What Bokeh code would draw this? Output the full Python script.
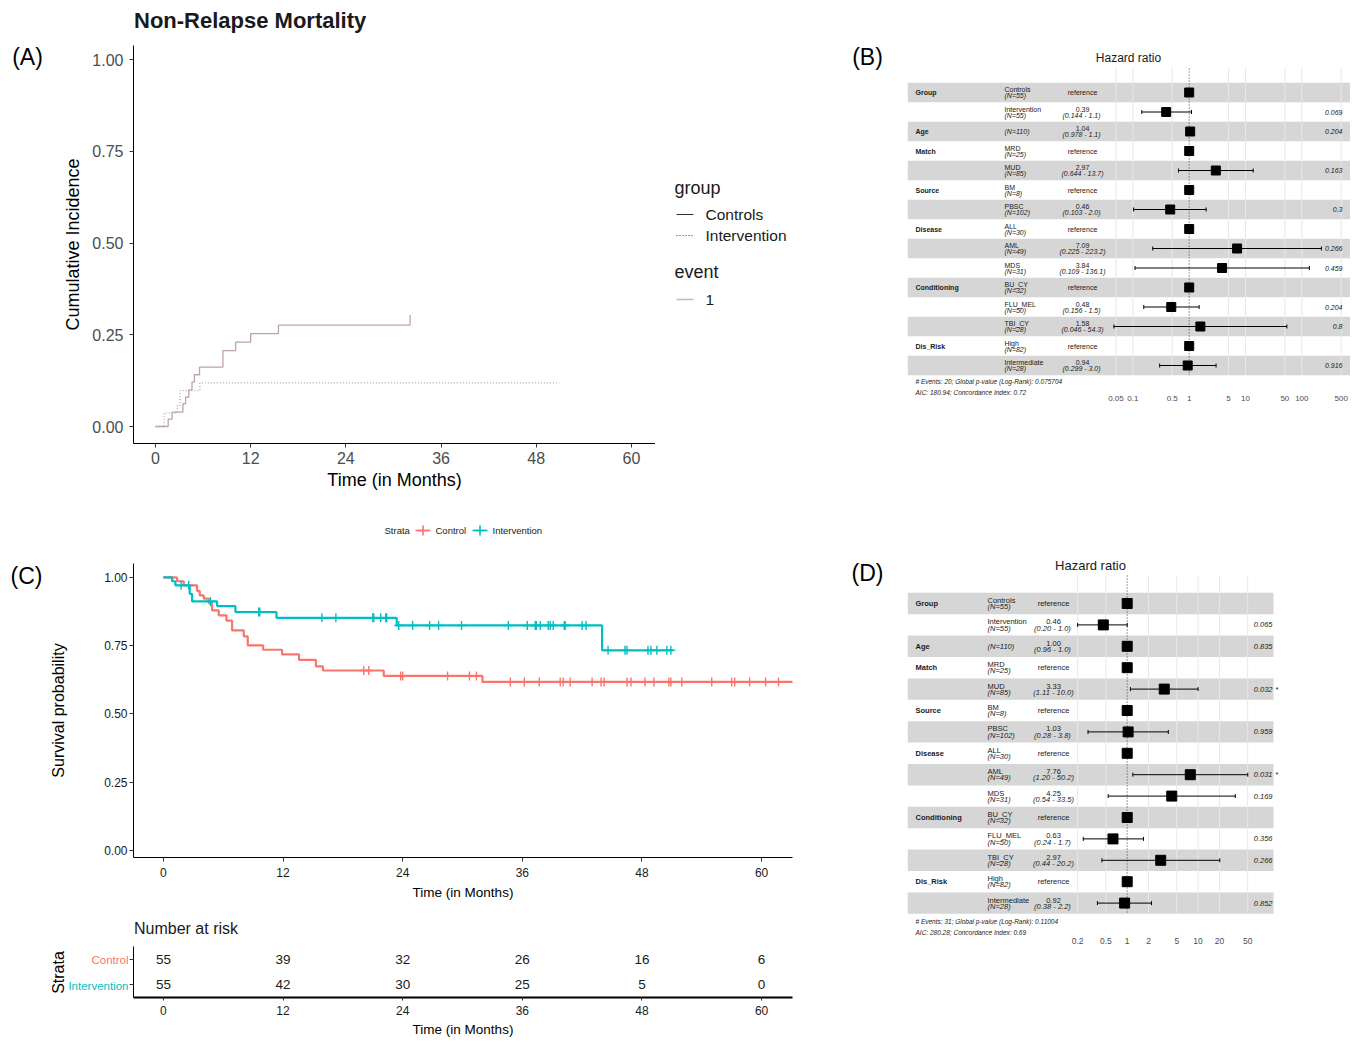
import numpy as np
from bokeh.plotting import figure
from bokeh.models import Range1d, FixedTicker, NumeralTickFormatter
from bokeh.layouts import row, column
from bokeh.embed import file_html
from bokeh.resources import INLINE
from bokeh.core.properties import value

FONT = "Liberation Sans"
RED = "#F8766D"
TEAL = "#00BFC4"
CIF_COLOR = "#BFA3A3"
nan = float("nan")

# ---------------- Panel A : Non-relapse mortality (cumulative incidence) ----------------
a_groups = ["Controls", "Intervention"]
a_events = ["1"]
a_x_ticks = [0, 12, 24, 36, 48, 60]
a_y_ticks = [0.0, 0.25, 0.5, 0.75, 1.0]
a_ctrl_time = [0.0, 1.6, 2.1, 3.45, 3.8, 4.2, 4.6, 4.9, 5.55, 8.5, 10.1, 12.0, 15.5, 32.1]
a_ctrl_cif = [0.0, 0.02, 0.039, 0.062, 0.080, 0.100, 0.121, 0.141, 0.162, 0.207, 0.230, 0.253, 0.276, 0.304]
a_int_time = [0.0, 1.1, 2.75, 3.1, 5.6, 50.9]
a_int_cif = [0.0, 0.037, 0.057, 0.098, 0.119, 0.119]

# ---------------- Panel C : Kaplan-Meier survival ----------------
c_x_ticks = [0, 12, 24, 36, 48, 60]
c_y_ticks = [0.0, 0.25, 0.5, 0.75, 1.0]
c_ctrl_time = [0, 1.37, 2.04, 3.38, 3.65, 4.05, 4.55, 4.88, 5.55, 6.32, 6.89, 8.06, 8.46, 10.0,
               11.9, 13.6, 15.3, 16.0, 22.1, 32.0, 64.0]
c_ctrl_surv = [1.0, 0.986, 0.971, 0.950, 0.934, 0.922, 0.906, 0.879, 0.861, 0.842, 0.806, 0.784,
               0.751, 0.735, 0.718, 0.698, 0.674, 0.659, 0.639, 0.617, 0.617]
c_int_time = [0, 0.87, 1.2, 2.64, 2.88, 5.39, 7.22, 11.34, 23.4, 44.0, 51.1]
c_int_surv = [1.0, 0.986, 0.971, 0.940, 0.912, 0.895, 0.873, 0.852, 0.824, 0.733, 0.733]
c_ctrl_cens = [20.1, 20.6, 23.8, 24.0, 28.5, 30.7, 31.4, 34.8, 36.2, 37.7, 39.8, 40.1, 40.8, 43.0,
               43.9, 44.2, 46.5, 46.9, 48.3, 49.2, 50.7, 50.9, 52.0, 55.0, 57.0, 57.3, 58.8, 60.4, 61.7]
c_int_cens = [1.77, 2.54, 4.71, 9.56, 9.66, 15.9, 17.3, 21.0, 21.1, 21.8, 22.3, 22.4, 23.6, 25.0,
              26.7, 27.6, 29.9, 34.6, 36.5, 37.3, 37.4, 37.8, 38.6, 38.8, 39.1, 40.2, 40.3, 42.0,
              42.4, 44.6, 46.3, 46.5, 48.6, 48.9, 49.5, 50.5, 50.9]
risk_strata = ["Control", "Intervention"]
risk_times = [0, 12, 24, 36, 48, 60]
risk_ctrl = [55, 39, 32, 26, 16, 6]
risk_int = [55, 42, 30, 25, 5, 0]

# ---------------- Forest plots (B: NRM, D: survival) ----------------
f_var = ["Group", "", "Age", "Match", "", "Source", "", "Disease", "", "", "Conditioning", "", "",
         "Dis_Risk", ""]
f_level = ["Controls", "Intervention", "", "MRD", "MUD", "BM", "PBSC", "ALL", "AML", "MDS", "BU_CY",
           "FLU_MEL", "TBI_CY", "High", "Intermediate"]
f_n = [55, 55, 110, 25, 85, 8, 102, 30, 49, 31, 32, 50, 28, 82, 28]

b_hr = [1.0, 0.39, 1.04, 1.0, 2.97, 1.0, 0.46, 1.0, 7.09, 3.84, 1.0, 0.48, 1.58, 1.0, 0.94]
b_lo = [nan, 0.144, 0.978, nan, 0.644, nan, 0.103, nan, 0.225, 0.109, nan, 0.156, 0.046, nan, 0.299]
b_hi = [nan, 1.1, 1.1, nan, 13.7, nan, 2.0, nan, 223.2, 136.1, nan, 1.5, 54.3, nan, 3.0]
b_p = ["", "0.069", "0.204", "", "0.163", "", "0.3", "", "0.266", "0.459", "", "0.204", "0.8", "", "0.916"]
b_star = [""] * 15
b_ticks = [0.05, 0.1, 0.5, 1, 5, 10, 50, 100, 500]
b_notes = ["# Events: 20; Global p-value (Log-Rank): 0.075704", "AIC: 180.94; Concordance Index: 0.72"]

d_hr = [1.0, 0.46, 1.00, 1.0, 3.33, 1.0, 1.03, 1.0, 7.76, 4.25, 1.0, 0.63, 2.97, 1.0, 0.92]
d_lo = [nan, 0.20, 0.96, nan, 1.11, nan, 0.28, nan, 1.20, 0.54, nan, 0.24, 0.44, nan, 0.38]
d_hi = [nan, 1.0, 1.0, nan, 10.0, nan, 3.8, nan, 50.2, 33.5, nan, 1.7, 20.2, nan, 2.2]
d_p = ["", "0.065", "0.835", "", "0.032", "", "0.959", "", "0.031", "0.169", "", "0.356", "0.266", "", "0.852"]
d_star = ["", "", "", "", "*", "", "", "", "*", "", "", "", "", "", ""]
d_ticks = [0.2, 0.5, 1, 2, 5, 10, 20, 50]
d_notes = ["# Events: 31; Global p-value (Log-Rank): 0.11004", "AIC: 280.28; Concordance Index: 0.69"]


# ---------------- helpers ----------------
def new_fig(box, frame, **kw):
    ox, oy, w, h = box
    FL, FR, FT, FB = frame
    return figure(width=w, height=h, output_backend="svg", toolbar_location=None,
                  min_border_left=FL - ox, min_border_right=ox + w - FR,
                  min_border_top=FT - oy, min_border_bottom=oy + h - FB, **kw)


def strip(box, frame=None):
    """Blank figure whose data space is the page pixel space (panel letters, legends, titles)."""
    ox, oy, w, h = box
    if frame is None:
        frame = (ox, ox + w, oy, oy + h)
    FL, FR, FT, FB = frame
    p = new_fig(box, frame, x_range=Range1d(FL, FR), y_range=Range1d(FB, FT),
                x_axis_location=None, y_axis_location=None, title_location=None)
    p.grid.visible = False
    p.outline_line_color = None
    return p


def put(p, X, Y, text, size, align="left", style="normal", color="black", angle=0.0):
    p.text(x=[X], y=[Y], text=[text], text_font=value(FONT), text_font_size=f"{size}px",
           text_font_style=style, text_color=color, text_align=align, text_baseline="middle", angle=angle)


def classic(p, tsize, tcolor, lsize):
    for ax in p.axis:
        ax.axis_line_color = "black"
        ax.axis_line_width = 1
        ax.major_tick_line_color = "#333333"
        ax.major_tick_in = 0
        ax.major_tick_out = 4
        ax.minor_tick_line_color = None
        ax.major_label_text_font = FONT
        ax.major_label_text_font_size = f"{tsize}px"
        ax.major_label_text_color = tcolor
        ax.axis_label_text_font = FONT
        ax.axis_label_text_font_size = f"{lsize}px"
        ax.axis_label_text_font_style = "normal"
        ax.axis_label_text_color = "black"
    p.grid.visible = False
    p.outline_line_color = None


# ======================= Row 1 : panel A and B =======================
R1_TOP, R1_BOT = 45, 443
stripA = strip((0, 0, 55, 495), (0, 55, R1_TOP, R1_BOT))
put(stripA, 27, 56, "(A)", 23, align="center")

A_FR = (133, 655, R1_TOP, R1_BOT)
titleA = strip((55, 0, 600, 45), (133, 655, 0, 45))
put(titleA, 133.5, 20, "Non-Relapse Mortality", 22, style="bold", color="#1a1a1a")

pA = new_fig((55, 45, 600, 450), A_FR, x_range=Range1d(-2.77, 63.03), y_range=Range1d(-0.0463, 1.0382),
             title_location=None)
pA.step(a_ctrl_time, a_ctrl_cif, mode="after", line_color=CIF_COLOR, line_width=1.3)
pA.step(a_int_time, a_int_cif, mode="after", line_color=CIF_COLOR, line_width=1.3, line_dash="1 2")
classic(pA, 16, "#4d4d4d", 18)
pA.xaxis.ticker = FixedTicker(ticks=a_x_ticks)
pA.yaxis.ticker = FixedTicker(ticks=a_y_ticks)
pA.yaxis.formatter = NumeralTickFormatter(format="0.00")
pA.xaxis.axis_label = "Time (in Months)"
pA.yaxis.axis_label = "Cumulative Incidence"
pA.yaxis.major_label_standoff = 6
pA.yaxis.axis_label_standoff = 6
pA.xaxis.major_label_standoff = 4
pA.xaxis.axis_label_standoff = 3

# legend of panel A (drawn in its own blank figure) + "(B)"
legAB = strip((655, 0, 252, 495), (655, 907, R1_TOP, R1_BOT))
put(legAB, 674, 187, "group", 18, color="#1a1a1a")
legAB.segment(x0=[676], y0=[214], x1=[693], y1=[214], line_color="#333333", line_width=1)
legAB.segment(x0=[676], y0=[235], x1=[693], y1=[235], line_color="#333333", line_width=1, line_dash="1 2")
put(legAB, 705, 214, a_groups[0], 15.5, color="#1a1a1a")
put(legAB, 705, 235, a_groups[1], 15.5, color="#1a1a1a")
put(legAB, 674, 271, "event", 18, color="#1a1a1a")
legAB.segment(x0=[676], y0=[299], x1=[693], y1=[299], line_color="#C9B6B6", line_width=1.3)
put(legAB, 705, 299, a_events[0], 15.5, color="#1a1a1a")
put(legAB, 867, 56, "(B)", 23, align="center")


# ======================= Forest plots =======================
def forest(box, frame, one_px, dec_px, row0, row_h, band_right, cols, fsz, sq, title_xy, title_sz,
           note_ys, grid_top, tick_sz, hr, lo, hi, pv, star, ticks, notes, lo_dec, tick_y, own_axis):
    FL, FR, FT, FB = frame

    def xo(X):
        return 10 ** ((X - one_px) / dec_px)

    def yo(Y):
        return (Y - row0) / row_h

    p = new_fig(box, frame, x_axis_type="log", x_range=Range1d(xo(FL), xo(FR)),
                y_range=Range1d(yo(FB), yo(FT)), y_axis_location=None,
                x_axis_location="below" if own_axis else None)
    p.grid.visible = False
    p.outline_line_color = None
    nrow = len(f_level)
    rows = list(range(nrow))
    br = [r for r in rows if r % 2 == 0]
    p.quad(left=xo(FL), right=xo(band_right), top=[r - 0.5 for r in br], bottom=[r + 0.5 for r in br],
           fill_color="#d6d6d6", line_color=None)
    gt = [t for t in ticks if t != 1]
    p.segment(x0=gt, y0=[yo(grid_top)] * len(gt), x1=gt, y1=[nrow - 0.5] * len(gt),
              line_color="#e8e8e8", line_width=1)
    p.segment(x0=[1], y0=[yo(grid_top)], x1=[1], y1=[nrow - 0.5], line_color="#444444",
              line_dash="1 2", line_width=1)
    est = [i for i in rows if not np.isnan(lo[i])]
    ref = [i for i in rows if np.isnan(lo[i])]
    elo = [lo[i] for i in est]
    ehi = [hi[i] for i in est]
    cap = 2.0 / row_h
    p.segment(x0=elo, y0=est, x1=ehi, y1=est, line_color="black", line_width=1)
    for ends in (elo, ehi):
        p.segment(x0=ends, y0=[r - cap for r in est], x1=ends, y1=[r + cap for r in est],
                  line_color="black", line_width=1)
    p.scatter(x=hr, y=rows, marker="square", size=sq, color="black")

    def txt(xs, ys, t, align="left", style="normal", size=fsz, color="#1a1a1a"):
        p.text(x=xs, y=ys, text=t, text_font=value(FONT), text_font_size=f"{size}px",
               text_font_style=style, text_align=align, text_baseline="middle", text_color=color)

    up = 3.0 / row_h
    dn = 3.2 / row_h
    txt([xo(cols[0])] * nrow, rows, f_var, style="bold")
    txt([xo(cols[1])] * nrow, [r - up if f_level[r] else r for r in rows], f_level)
    txt([xo(cols[1])] * nrow, [r + dn if f_level[r] else r for r in rows], [f"(N={v})" for v in f_n],
        style="italic")
    txt([xo(cols[2])] * len(ref), ref, ["reference"] * len(ref), align="center")
    txt([xo(cols[2])] * len(est), [r - up for r in est], [f"{hr[i]:.2f}" for i in est], align="center")
    txt([xo(cols[2])] * len(est), [r + dn for r in est],
        [f"({lo[i]:.{lo_dec}f} - {hi[i]:4.1f})" for i in est], align="center", style="italic")
    txt([xo(cols[3])] * nrow, rows, pv, align="right", style="italic")
    txt([xo(cols[3] + 3)] * nrow, rows, star)
    txt([xo(title_xy[0])], [yo(title_xy[1])], ["Hazard ratio"], align="center", size=title_sz)
    txt([xo(cols[0])] * 2, [yo(y) for y in note_ys], notes, style="italic", size=6.5)
    if own_axis:
        ax = p.xaxis[0]
        ax.ticker = FixedTicker(ticks=ticks)
        ax.major_label_overrides = {t: f"{t:g}" for t in ticks}
        ax.axis_line_color = None
        ax.major_tick_line_color = None
        ax.minor_tick_line_color = None
        ax.major_tick_out = 0
        ax.major_tick_in = 0
        ax.minor_tick_out = 0
        ax.minor_tick_in = 0
        ax.major_label_standoff = 1
        ax.major_label_text_font = FONT
        ax.major_label_text_font_size = f"{tick_sz}px"
        ax.major_label_text_color = "#4d4d4d"
    else:
        txt(ticks, [yo(tick_y)] * len(ticks), [f"{t:g}" for t in ticks], align="center",
            size=tick_sz, color="#4d4d4d")
    return p


pB = forest((907, 0, 443, 495), (907, 1350, R1_TOP, R1_BOT), 1188.7, 56.3, 92, 19.5, 1350,
            (915, 1004, 1082, 1342), 7, 9, (1128, 57), 12, (381, 392), 68, 8,
            b_hr, b_lo, b_hi, b_p, b_star, b_ticks, b_notes, 3, 398, False)

# ======================= Row 2 : panel C, risk table, panel D =======================
# legend strip above panel C
legC = strip((0, 495, 840, 50))
put(legC, 384, 530, "Strata", 9.5, color="#1a1a1a")
legC.segment(x0=[415, 472], y0=[530, 530], x1=[430, 487], y1=[530, 530], line_color=[RED, TEAL],
             line_width=1.6)
legC.scatter(x=[422.5, 479.5], y=[530, 530], marker="cross", size=10, line_color=[RED, TEAL],
             line_width=1.6)
put(legC, 435, 530, risk_strata[0], 9.5, color="#1a1a1a")
put(legC, 492, 530, risk_strata[1], 9.5, color="#1a1a1a")

C_FR = (133, 792, 563, 857)
stripC = strip((0, 545, 45, 370), (0, 45, 563, 857))
put(stripC, 26, 575, "(C)", 23, align="center")

pC = new_fig((45, 545, 795, 370), C_FR, x_range=Range1d(-3.0, 63.1), y_range=Range1d(-0.026, 1.051),
             title_location=None)


def surv_at(times, surv, tq):
    idx = np.searchsorted(np.asarray(times), np.asarray(tq), side="right") - 1
    return list(np.asarray(surv)[idx])


pC.step(c_ctrl_time, c_ctrl_surv, mode="after", line_color=RED, line_width=2.2)
pC.step(c_int_time, c_int_surv, mode="after", line_color=TEAL, line_width=2.2)
pC.scatter(c_ctrl_cens, surv_at(c_ctrl_time, c_ctrl_surv, c_ctrl_cens), marker="cross", size=9,
           line_color=RED, line_width=1.4)
pC.scatter(c_int_cens, surv_at(c_int_time, c_int_surv, c_int_cens), marker="cross", size=9,
           line_color=TEAL, line_width=1.4)
classic(pC, 12, "#1a1a1a", 13.5)
pC.yaxis.axis_label_text_font_size = "16px"
pC.xaxis.ticker = FixedTicker(ticks=c_x_ticks)
pC.yaxis.ticker = FixedTicker(ticks=c_y_ticks)
pC.yaxis.formatter = NumeralTickFormatter(format="0.00")
pC.xaxis.axis_label = "Time (in Months)"
pC.yaxis.axis_label = "Survival probability"
pC.yaxis.major_label_standoff = 2
pC.yaxis.axis_label_standoff = 34
pC.xaxis.major_label_standoff = 6
pC.xaxis.axis_label_standoff = 5

# risk table
R_FR = (133, 792, 946, 997)
stripR = strip((0, 915, 129, 125), (0, 129, 946, 997))
put(stripR, 58, 972, "Strata", 16, align="center", angle=np.pi / 2)
put(stripR, 128, 959, risk_strata[0], 11.5, align="right", color=RED)
put(stripR, 128, 985, risk_strata[1], 11.5, align="right", color=TEAL)

titleR = strip((129, 915, 711, 25), (133, 792, 915, 940))
put(titleR, 133.5, 928, "Number at risk", 16, color="#1a1a1a")

n_strata = len(risk_strata)
row_pos = [n_strata - i - 0.5 for i in range(n_strata)]   # first stratum on top
pR = new_fig((129, 940, 711, 100), R_FR, x_range=Range1d(-3.0, 63.1), y_range=Range1d(0, n_strata),
             title_location=None)
pR.text(x=risk_times + risk_times, y=[row_pos[0]] * len(risk_times) + [row_pos[1]] * len(risk_times),
        text=[str(v) for v in risk_ctrl + risk_int], text_font=value(FONT), text_font_size="13.5px",
        text_align="center", text_baseline="middle", text_color="#1a1a1a")
classic(pR, 12, "#1a1a1a", 13.5)
pR.xaxis.ticker = FixedTicker(ticks=c_x_ticks)
pR.xaxis.axis_label = "Time (in Months)"
pR.xaxis.axis_line_width = 2
pR.xaxis.major_tick_out = 3
pR.xaxis.major_label_standoff = 5
pR.xaxis.axis_label_standoff = 4
pR.yaxis.ticker = FixedTicker(ticks=row_pos)
pR.yaxis.major_label_overrides = {v: "" for v in row_pos}
pR.yaxis.major_label_standoff = 0
pR.yaxis.major_tick_out = 4

stripD = strip((840, 495, 67, 545), (840, 907, 555, 936))
put(stripD, 867, 572, "(D)", 23, align="center")
pD = forest((907, 495, 443, 545), (907, 1290, 555, 936), 1126.7, 70.9, 603, 21.4, 1273,
            (915, 987, 1053, 1272), 7.5, 10, (1090, 565), 13, (921, 932), 575, 8.5,
            d_hr, d_lo, d_hi, d_p, d_star, d_ticks, d_notes, 2, 940, True)

layout = column(row(stripA, column(titleA, pA), legAB, pB),
                row(column(legC, row(stripC, pC), row(stripR, column(titleR, pR))), stripD, pD))
open("out.html", "w").write(file_html(layout, INLINE))
